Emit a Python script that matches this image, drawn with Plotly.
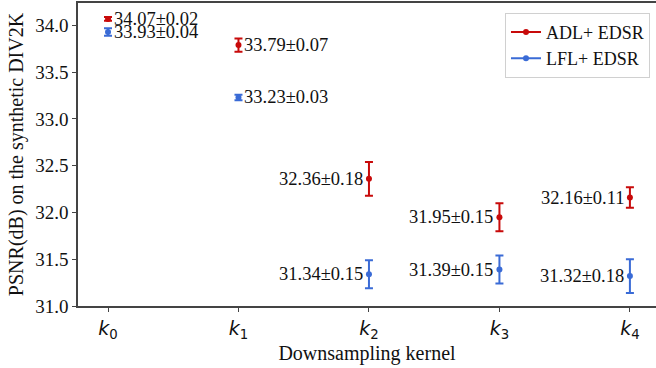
import plotly.graph_objects as go

kernels = ["k0", "k1", "k2", "k3", "k4"]
kernel_labels = ["<i>k</i><sub>0</sub>", "<i>k</i><sub>1</sub>", "<i>k</i><sub>2</sub>",
                 "<i>k</i><sub>3</sub>", "<i>k</i><sub>4</sub>"]
adl_mean = [34.07, 33.79, 32.36, 31.95, 32.16]
adl_err = [0.02, 0.07, 0.18, 0.15, 0.11]
lfl_mean = [33.93, 33.23, 31.34, 31.39, 31.32]
lfl_err = [0.04, 0.03, 0.15, 0.15, 0.18]
label_side = ["right", "right", "left", "left", "left"]

RED = "#c80a0a"
BLUE = "#3a6bd6"
SERIF = "Liberation Serif, Times New Roman, serif"

xs = list(range(len(kernels)))

fig = go.Figure()
for name, mean, err, col in [("ADL+ EDSR", adl_mean, adl_err, RED),
                             ("LFL+ EDSR", lfl_mean, lfl_err, BLUE)]:
    fig.add_trace(go.Scatter(
        x=xs, y=mean, mode="markers", showlegend=False,
        marker=dict(color=col, size=6),
        error_y=dict(type="data", array=err, color=col, thickness=2, width=4),
    ))
    fig.add_trace(go.Scatter(
        x=[None], y=[None], mode="lines+markers", name=name,
        line=dict(color=col, width=2), marker=dict(color=col, size=6),
    ))

annotations = []
for mean, err in [(adl_mean, adl_err), (lfl_mean, lfl_err)]:
    for i, (m, e) in enumerate(zip(mean, err)):
        side = label_side[i]
        annotations.append(dict(
            x=xs[i], y=m, xref="x", yref="y",
            text=f"{m:.2f}±{e:.2f}", showarrow=False,
            xanchor="left" if side == "right" else "right",
            yanchor="middle",
            xshift=4 if side == "right" else -4,
            font=dict(family=SERIF, size=18.5, color="#111"),
        ))

fig.update_layout(
    width=656, height=368,
    margin=dict(l=78, r=0, t=3, b=62),
    paper_bgcolor="white", plot_bgcolor="white",
    annotations=annotations,
    legend=dict(
        x=0.9896, y=0.968, xanchor="right", yanchor="top",
        bgcolor="white", bordercolor="#d0d0d0", borderwidth=1,
        font=dict(family=SERIF, size=18, color="#111"),
        tracegroupgap=0, itemwidth=30,
    ),
    xaxis=dict(
        range=[-0.23, 4.2], tickmode="array", tickvals=xs, ticktext=kernel_labels,
        tickfont=dict(family="DejaVu Sans", size=19, color="#111"),
        showgrid=False, zeroline=False, showline=True, linecolor="#444", linewidth=1.5,
        mirror=True, ticks="outside", ticklen=4, tickcolor="#444",
        title=dict(text="Downsampling kernel", font=dict(family=SERIF, size=20, color="#111"),
                   standoff=4),
    ),
    yaxis=dict(
        range=[31.0, 34.24], tickmode="array",
        tickvals=[31.0, 31.5, 32.0, 32.5, 33.0, 33.5, 34.0],
        ticktext=["31.0", "31.5", "32.0", "32.5", "33.0", "33.5", "34.0"],
        tickfont=dict(family=SERIF, size=19, color="#111"),
        showgrid=False, zeroline=False, showline=True, linecolor="#444", linewidth=1.5,
        ticks="outside", ticklen=4, tickcolor="#444",
        title=dict(text="PSNR(dB) on the synthetic DIV2K",
                   font=dict(family=SERIF, size=20, color="#111"), standoff=6),
    ),
)

fig.write_html("out.html", config={"displayModeBar": False},
               post_script="document.body.style.margin='0px';document.body.style.padding='0px';")
